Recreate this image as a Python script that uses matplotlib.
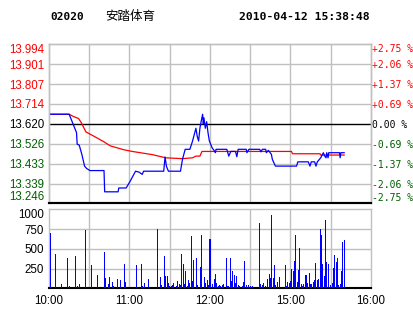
import matplotlib
matplotlib.use("Agg")
import matplotlib.pyplot as plt

# ---------------- data ----------------
prev_close = 13.620
price_ticks = [13.246, 13.339, 13.433, 13.526, 13.620, 13.714, 13.807, 13.901, 13.994]
pct_labels = ["-2.75 %", "-2.06 %", "-1.37 %", "-0.69 %", "0.00 %",
              "+0.69 %", "+1.37 %", "+2.06 %", "+2.75 %"]
time_ticks = [0, 30, 60, 90, 120, 150, 180, 210, 240]
time_labels = ["10:00", "", "11:00", "", "12:00", "", "15:00", "", "16:00"]
vol_ticks = [0, 250, 500, 750, 1000]
vol_labels = ["", "250", "500", "750", "1000"]

# price line (minutes since 10:00 on trading clock, price)
price_t = [0, 15, 17, 19, 20.5, 21, 22.5, 24.5, 26.5, 28, 30.5, 41, 41.5, 51.5, 52, 57.5,
           60.5, 64.5, 67, 69.5, 70.5, 85.5, 86.5, 87.5, 89, 98, 99.5, 101.5, 105, 107,
           109.5, 110.5, 111.5, 112.5, 113.5, 114.5, 115, 115.5, 116.5, 117.5, 118.5,
           119.5, 121.5, 123, 124, 124.5, 132.5, 134, 135.5, 139, 140, 141, 147, 147.5,
           149, 157, 158, 159, 161.5, 162, 163.5, 165.75, 166.5, 168.75, 184.5, 185.5,
           193.25, 194.5, 195.5, 198, 199, 200, 202.5, 204.5, 205.5, 206.5, 207, 208,
           208.5, 216.5, 217, 217.5, 220]
price_v = [13.665, 13.665, 13.634, 13.602, 13.579, 13.524, 13.520, 13.476, 13.421, 13.410,
           13.400, 13.400, 13.300, 13.300, 13.318, 13.318, 13.350, 13.397, 13.393, 13.382,
           13.397, 13.397, 13.464, 13.421, 13.397, 13.397, 13.453, 13.500, 13.500, 13.539,
           13.599, 13.560, 13.539, 13.600, 13.634, 13.665, 13.620, 13.648, 13.599, 13.630,
           13.579, 13.540, 13.508, 13.495, 13.484, 13.500, 13.500, 13.468, 13.490, 13.490,
           13.465, 13.500, 13.500, 13.484, 13.500, 13.500, 13.488, 13.500, 13.500, 13.484,
           13.495, 13.476, 13.452, 13.421, 13.421, 13.441, 13.441, 13.421, 13.441, 13.441,
           13.421, 13.441, 13.460, 13.484, 13.468, 13.460, 13.484, 13.460, 13.484, 13.484,
           13.460, 13.484, 13.484]

# average price line
avg_t = [0, 15, 18, 22, 24, 27.5, 34.5, 40.75, 45.75, 55.75, 62, 77, 87, 99.5, 107,
         109.5, 112.5, 114, 180.75, 181.5, 202, 202.5, 220]
avg_v = [13.665, 13.665, 13.655, 13.645, 13.626, 13.582, 13.558, 13.536, 13.516, 13.498,
         13.490, 13.475, 13.460, 13.456, 13.460, 13.468, 13.468, 13.490, 13.490, 13.479,
         13.479, 13.473, 13.473]

# volume per minute
vol_t = [1, 5, 9, 14, 15, 20, 21, 23, 27, 32, 36, 41, 42, 44, 45, 47, 48, 51, 53, 56, 57,
         65, 69, 70, 71, 74, 81, 83, 84, 86, 87, 88, 89, 90, 91, 92, 93, 95, 96, 97, 98, 99,
         100, 101, 102, 103, 104, 105, 106, 107, 108, 110, 111, 113, 114, 116, 117, 118,
         119, 120, 122, 123, 124, 125, 126, 127, 128, 129, 130, 132, 133, 134, 135, 136,
         137, 138, 139, 140, 141, 142, 144, 145, 146, 147, 149, 150, 152, 157, 158, 159,
         160, 161, 163, 164, 165, 166, 167, 168, 169, 170, 172, 176, 177, 178, 179, 180,
         181, 182, 183, 184, 185, 186, 187, 188, 189, 190, 191, 192, 193, 194, 195, 196,
         197, 198, 199, 200, 201, 202, 203, 204, 205, 206, 207, 208, 210, 211, 212, 213,
         214, 215, 216, 217, 218, 219, 220]
vol_v = [696, 430, 55, 384, 30, 409, 30, 55, 738, 295, 169, 460, 135, 55, 143, 80, 30, 118,
         105, 308, 80, 295, 308, 30, 63, 118, 751, 143, 42, 409, 156, 156, 67, 30, 30, 42, 67,
         30, 93, 55, 42, 435, 308, 55, 219, 30, 105, 67, 663, 93, 359, 384, 42, 270, 675, 143,
         67, 105, 42, 625, 55, 118, 181, 67, 30, 42, 30, 42, 55, 384, 30, 30, 384, 93, 219,
         169, 67, 156, 42, 30, 30, 80, 346, 42, 42, 30, 30, 827, 55, 42, 67, 30, 118, 181, 131,
         928, 131, 295, 42, 80, 143, 295, 30, 80, 67, 93, 245, 219, 346, 675, 80, 232, 511, 55,
         30, 55, 169, 169, 67, 194, 55, 55, 80, 105, 321, 105, 118, 751, 675, 308, 156, 865,
         333, 308, 42, 67, 257, 422, 333, 384, 42, 55, 219, 587, 612]

code = "02020"
name = "安踏体育"
stamp = "2010-04-12 15:38:48"

# ---------------- style ----------------
RED = "#ff0000"
GREEN = "#006000"
GRID = "#c0c0c0"
W, H = 414, 314

fig = plt.figure(figsize=(W / 100, H / 100), dpi=100)
fig.patch.set_facecolor("white")

L, R = 49, 371
ax = fig.add_axes([L / W, 1 - 203.3 / H, (R - L) / W, (203.3 - 44.3) / H])
axv = fig.add_axes([L / W, 1 - 288.3 / H, (R - L) / W, (288.3 - 209.3) / H])

lab_font = dict(family="Liberation Sans", size=8.3)


def color_for(p):
    if abs(p - prev_close) < 1e-6:
        return "black"
    return RED if p > prev_close else GREEN


def edge_align(labels):
    labels[0].set_va("bottom")
    labels[-1].set_va("top")


# price panel
ax.set_xlim(0, 240)
ax.set_ylim(price_ticks[0], price_ticks[-1])
for t in time_ticks[1:-1]:
    ax.axvline(t, color=GRID, lw=1.0, zorder=1)
for p in price_ticks[1:-1]:
    if abs(p - prev_close) < 1e-6:
        ax.axhline(p, color="black", lw=1.0, zorder=2)
    else:
        ax.axhline(p, color=GRID, lw=1.0, zorder=1)
ax.plot(avg_t, avg_v, color=RED, lw=0.9, zorder=3)
ax.plot(price_t, price_v, color="#0000ff", lw=0.9, zorder=4)

ax.set_xticks([])
ax.set_yticks(price_ticks)
ax.set_yticklabels([f"{p:.3f}" for p in price_ticks], fontdict=lab_font)
ax.tick_params(axis="y", length=0, pad=3.5)
labs = ax.get_yticklabels()
for lbl, p in zip(labs, price_ticks):
    lbl.set_color(color_for(p))
edge_align(labs)

ax2 = ax.twinx()
ax2.set_ylim(ax.get_ylim())
ax2.set_yticks(price_ticks)
ax2.set_yticklabels(pct_labels, family="DejaVu Sans Mono", size=7)
ax2.tick_params(axis="y", length=0, pad=0.8)
labs2 = ax2.get_yticklabels()
for lbl, p in zip(labs2, price_ticks):
    lbl.set_color(color_for(p))
edge_align(labs2)

for a in (ax, ax2):
    for s in ("left", "right", "top"):
        a.spines[s].set_color(GRID)
        a.spines[s].set_linewidth(1.0)
    a.spines["bottom"].set_color("black")
    a.spines["bottom"].set_linewidth(1.5)

# volume panel
axv.set_xlim(0, 240)
axv.set_ylim(0, 1000)
for t in time_ticks[1:-1]:
    axv.axvline(t, color=GRID, lw=1.0, zorder=1)
for v in vol_ticks[1:-1]:
    axv.axhline(v, color=GRID, lw=1.0, zorder=1)
axv.bar(vol_t, vol_v, width=0.75, color="#0000ff", linewidth=0, zorder=3)
axv.set_yticks(vol_ticks)
axv.set_yticklabels(vol_labels, family="Liberation Sans", size=8.3)
axv.get_yticklabels()[-1].set_va("top")
axv.set_xticks(time_ticks)
axv.set_xticklabels(time_labels, family="Liberation Sans", size=8.3)
axv.tick_params(length=0)
axv.tick_params(axis="y", pad=3.5)
axv.tick_params(axis="x", pad=5)
for s in ("left", "right", "top"):
    axv.spines[s].set_color(GRID)
    axv.spines[s].set_linewidth(1.0)
axv.spines["bottom"].set_color("black")
axv.spines["bottom"].set_linewidth(1.5)

# header
fig.text(50 / W, 1 - 16.7 / H, code, family="DejaVu Sans Mono", weight="bold",
         size=8, va="center", ha="left")
fig.text(105 / W, 1 - 16.5 / H, name, family=["Noto Sans CJK SC", "DejaVu Sans"],
         size=9, va="center", ha="left")
fig.text(370 / W, 1 - 16.7 / H, stamp, family="DejaVu Sans Mono", weight="bold",
         size=8.2, va="center", ha="right")

fig.savefig("out.png", dpi=100)
